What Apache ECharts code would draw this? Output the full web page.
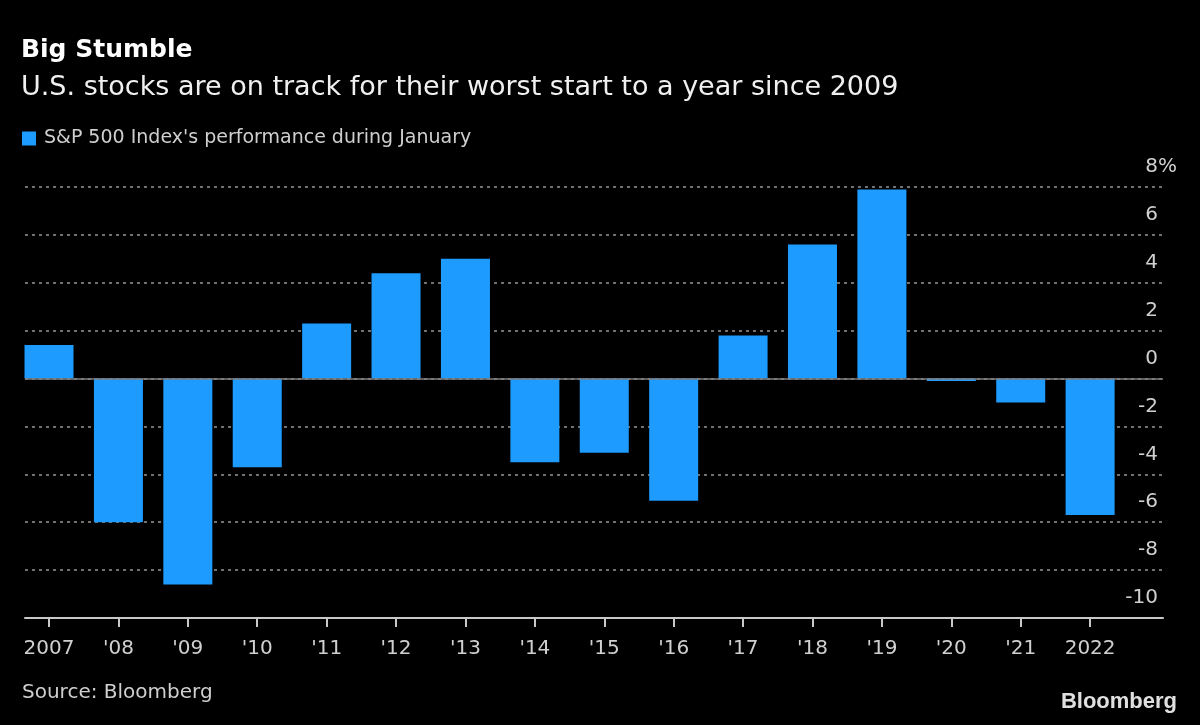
<!DOCTYPE html>
<html>
<head>
<meta charset="utf-8">
<script src="https://cdn.jsdelivr.net/npm/echarts@6/dist/echarts.min.js"></script>
<style>
html,body{margin:0;padding:0;background:#000;}
#chart{width:1200px;height:725px;}
</style>
</head>
<body>
<div id="chart"></div>
<script>
const years = ["2007","'08","'09","'10","'11","'12","'13","'14","'15","'16","'17","'18","'19","'20","'21","2022"];
const janPerformance = [1.4, -6.0, -8.6, -3.7, 2.3, 4.4, 5.0, -3.5, -3.1, -5.1, 1.8, 5.6, 7.9, -0.1, -1.0, -5.7];
const yTicks = [-10, -8, -6, -4, -2, 0, 2, 4, 6, 8];
const titleText = 'Big Stumble';
const subtitleText = 'U.S. stocks are on track for their worst start to a year since 2009';
const seriesName = "S&P 500 Index's performance during January";
const sourceText = 'Source: Bloomberg';

const FONT = '"DejaVu Sans"';
const chart = echarts.init(document.getElementById('chart'));
const idx = years.map((_, i) => i);

chart.setOption({
  backgroundColor: '#000',
  animation: false,
  textStyle: { fontFamily: FONT },
  title: [
    { text: titleText, left: 21, top: 38, padding: 0, textStyle: { color: '#fff', fontSize: 25, fontWeight: 'bold', fontFamily: FONT } },
    { text: subtitleText, left: 21, top: 74, padding: 0, textStyle: { color: '#f0f0f0', fontSize: 27, fontWeight: 'normal', fontFamily: FONT } }
  ],
  legend: {
    left: 22, top: 129, padding: 0, icon: 'rect', itemWidth: 14, itemHeight: 14, itemGap: 8,
    textStyle: { color: '#cfcfcf', fontSize: 19, fontFamily: FONT, padding: [0, 0, 0, 3] },
    data: [seriesName]
  },
  grid: { left: 25, right: 37, top: 187, bottom: 107, containLabel: false },
  xAxis: {
    type: 'value', min: -0.346, max: 16.05,
    splitLine: { show: false },
    axisLine: { show: true, onZero: false, lineStyle: { color: '#c8c8c8', width: 2 } },
    axisTick: { show: true, customValues: idx, length: 9, lineStyle: { color: '#c8c8c8', width: 2 } },
    axisLabel: { show: true, customValues: idx, color: '#d0d0d0', fontSize: 20, margin: 21, fontFamily: FONT, formatter: v => years[Math.round(v)] }
  },
  yAxis: {
    type: 'value', position: 'right', min: -10, max: 8, interval: 2,
    axisLine: { show: false }, axisTick: { show: false },
    splitLine: { show: true, lineStyle: { color: '#707070', type: [3, 4], width: 2 } },
    axisLabel: {
      inside: true, margin: -14, verticalAlign: 'bottom', padding: [0, 0, 10, 0],
      color: '#d0d0d0', fontSize: 20, align: 'right',
      formatter: v => v === 8 ? '{n|8}{p|%}' : '{n|' + v + '}{h|%}',
      rich: {
        n: { color: '#d0d0d0', fontSize: 20, fontFamily: FONT },
        p: { color: '#d0d0d0', fontSize: 20, fontFamily: FONT },
        h: { color: 'rgba(0,0,0,0)', fontSize: 20, fontFamily: FONT }
      }
    }
  },
  series: [{
    name: seriesName, type: 'bar', barWidth: 49,
    itemStyle: { color: '#1d9bff' },
    data: janPerformance.map((v, i) => [i, v]),
    markLine: {
      silent: true, symbol: 'none', label: { show: false },
      lineStyle: { color: '#808080', type: 'solid', width: 1.5 },
      data: [{ yAxis: 0 }]
    }
  }],
  graphic: [
    { type: 'text', left: 22, top: 683, style: { text: sourceText, fill: '#cfcfcf', fontSize: 20, fontFamily: FONT } },
    { type: 'text', right: 23, top: 691, style: { text: 'Bloomberg', fill: '#e0e0e0', fontSize: 22, fontWeight: 'bold', fontFamily: 'Liberation Sans' } }
  ]
});
</script>
</body>
</html>
